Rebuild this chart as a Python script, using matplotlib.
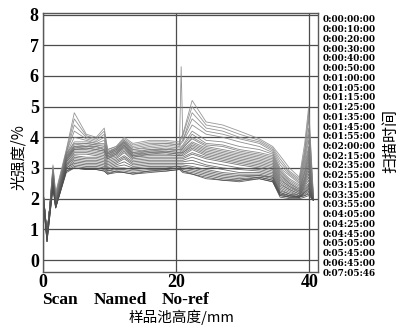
import matplotlib
matplotlib.use("Agg")
import matplotlib.pyplot as plt

# sample cell height positions (mm)
heights = [0, 0.6, 1.5, 1.9, 3.5, 4.7, 6.5, 8.0, 9.2, 9.7, 11.0, 12.2, 13.5, 16.0, 18.5,
           20.5, 20.75, 21.0, 22.4, 24.5, 27.0, 29.5, 32.5, 34.5, 35.6, 37.0, 38.5, 39.3, 39.9, 40.6]

scan_times = ["0:00:00:00", "0:00:10:00", "0:00:20:00", "0:00:30:00", "0:00:40:00",
              "0:00:50:00", "0:01:00:00", "0:01:05:00", "0:01:15:00", "0:01:25:00",
              "0:01:35:00", "0:01:45:00", "0:01:55:00", "0:02:00:00", "0:02:15:00",
              "0:02:35:00", "0:02:55:00", "0:03:15:00", "0:03:35:00", "0:03:55:00",
              "0:04:05:00", "0:04:25:00", "0:04:45:00", "0:05:05:00", "0:05:45:00",
              "0:06:45:00", "0:07:05:46"]

# light intensity (%) per scan
s0 = [2.3, 0.6, 3.1, 2.2, 3.6, 4.8, 4.1, 4.0, 4.3, 3.6, 3.7, 4.0, 3.8, 3.9, 3.9, 3.85, 4.0, 4.1, 5.2, 4.5, 4.4, 4.2, 3.95, 3.7, 3.4, 3.0, 2.7, 3.8, 5.0, 2.1]
s1 = [2.3, 0.65, 3.05, 2.15, 3.55, 4.6, 4.05, 3.95, 4.2, 3.6, 3.7, 3.95, 3.75, 3.85, 3.85, 3.8, 3.95, 4.05, 5.0, 4.4, 4.3, 4.1, 3.9, 3.65, 3.3, 2.9, 2.65, 3.6, 4.8, 2.1]
s2 = [2.25, 0.65, 3.0, 2.1, 3.5, 4.4, 4.0, 3.9, 4.1, 3.55, 3.65, 3.9, 3.7, 3.8, 3.8, 3.75, 6.3, 3.9, 4.8, 4.3, 4.2, 4.0, 3.85, 3.6, 3.2, 2.85, 2.6, 3.5, 4.6, 2.05]
s3 = [2.3, 0.7, 2.95, 2.05, 3.5, 4.2, 3.95, 3.85, 4.0, 3.5, 3.65, 3.9, 3.65, 3.75, 3.8, 3.75, 3.85, 3.9, 4.6, 4.2, 4.1, 3.95, 3.8, 3.55, 3.1, 2.8, 2.55, 3.4, 4.3, 2.05]
s4 = [2.25, 0.7, 2.9, 2.0, 3.45, 4.0, 3.9, 3.8, 3.9, 3.45, 3.6, 3.85, 3.6, 3.7, 3.75, 3.7, 3.8, 3.85, 4.4, 4.1, 4.0, 3.85, 3.7, 3.5, 3.0, 2.75, 2.5, 3.3, 4.1, 2.05]
s5 = [2.3, 0.75, 2.9, 2.0, 3.45, 3.85, 3.85, 3.8, 3.8, 3.5, 3.65, 3.85, 3.6, 3.65, 3.7, 3.65, 3.7, 3.75, 4.2, 3.9, 3.85, 3.7, 3.6, 3.45, 2.95, 2.65, 2.45, 3.2, 3.9, 2.05]
s6 = [2.25, 0.75, 2.85, 2.0, 3.45, 3.8, 3.8, 3.75, 3.75, 3.5, 3.6, 3.85, 3.55, 3.6, 3.65, 3.6, 3.65, 3.7, 4.1, 3.8, 3.75, 3.6, 3.5, 3.4, 2.9, 2.6, 2.4, 3.1, 3.7, 2.05]
s7 = [2.3, 0.8, 2.85, 1.95, 3.4, 3.75, 3.8, 3.75, 3.7, 3.45, 3.6, 3.8, 3.5, 3.6, 3.6, 3.6, 3.6, 3.65, 4.0, 3.75, 3.7, 3.55, 3.45, 3.35, 2.85, 2.55, 2.35, 3.0, 3.6, 2.0]
s8 = [2.25, 0.8, 2.8, 1.95, 3.4, 3.7, 3.75, 3.7, 3.65, 3.45, 3.55, 3.8, 3.5, 3.55, 3.6, 3.55, 3.6, 3.65, 3.95, 3.7, 3.6, 3.5, 3.4, 3.3, 2.8, 2.5, 2.3, 2.9, 3.5, 2.0]
s9 = [2.3, 0.8, 2.8, 1.95, 3.35, 3.7, 3.7, 3.7, 3.6, 3.4, 3.55, 3.75, 3.45, 3.55, 3.55, 3.5, 3.55, 3.6, 3.85, 3.65, 3.55, 3.45, 3.35, 3.25, 2.75, 2.5, 2.3, 2.85, 3.4, 2.0]
s10 = [2.25, 0.85, 2.75, 1.9, 3.35, 3.65, 3.7, 3.65, 3.6, 3.4, 3.5, 3.75, 3.45, 3.5, 3.55, 3.5, 3.5, 3.55, 3.8, 3.6, 3.5, 3.4, 3.3, 3.2, 2.7, 2.45, 2.25, 2.8, 3.3, 2.0]
s11 = [2.2, 0.85, 2.75, 1.9, 3.3, 3.65, 3.65, 3.6, 3.55, 3.35, 3.5, 3.7, 3.4, 3.5, 3.5, 3.45, 3.5, 3.5, 3.75, 3.55, 3.45, 3.35, 3.25, 3.15, 2.65, 2.4, 2.25, 2.7, 3.2, 2.0]
s12 = [2.25, 0.85, 2.7, 1.9, 3.3, 3.6, 3.65, 3.6, 3.55, 3.35, 3.45, 3.7, 3.4, 3.45, 3.5, 3.45, 3.45, 3.5, 3.7, 3.5, 3.4, 3.3, 3.2, 3.1, 2.6, 2.4, 2.2, 2.65, 3.1, 2.0]
s13 = [2.2, 0.9, 2.7, 1.85, 3.25, 3.6, 3.6, 3.55, 3.5, 3.3, 3.45, 3.65, 3.35, 3.45, 3.45, 3.4, 3.4, 3.45, 3.65, 3.45, 3.35, 3.25, 3.15, 3.05, 2.55, 2.35, 2.2, 2.6, 3.0, 1.95]
s14 = [2.2, 0.9, 2.65, 1.85, 3.25, 3.55, 3.55, 3.5, 3.45, 3.3, 3.4, 3.6, 3.35, 3.4, 3.4, 3.4, 3.4, 3.4, 3.6, 3.4, 3.3, 3.2, 3.1, 3.0, 2.5, 2.3, 2.15, 2.55, 2.9, 1.95]
s15 = [2.2, 0.9, 2.65, 1.85, 3.2, 3.5, 3.5, 3.45, 3.4, 3.25, 3.35, 3.55, 3.3, 3.35, 3.35, 3.35, 3.35, 3.35, 3.5, 3.35, 3.25, 3.15, 3.05, 2.95, 2.45, 2.3, 2.15, 2.5, 2.8, 1.95]
s16 = [2.15, 0.9, 2.6, 1.8, 3.2, 3.45, 3.45, 3.4, 3.35, 3.2, 3.3, 3.5, 3.25, 3.3, 3.3, 3.3, 3.3, 3.3, 3.45, 3.3, 3.2, 3.1, 3.0, 2.9, 2.4, 2.25, 2.1, 2.45, 2.7, 1.95]
s17 = [2.2, 0.85, 2.6, 1.8, 3.15, 3.4, 3.35, 3.35, 3.3, 3.15, 3.25, 3.4, 3.2, 3.25, 3.25, 3.25, 3.25, 3.25, 3.35, 3.2, 3.1, 3.0, 2.95, 2.85, 2.35, 2.2, 2.1, 2.4, 2.6, 1.95]
s18 = [2.15, 0.85, 2.55, 1.8, 3.1, 3.35, 3.3, 3.3, 3.25, 3.1, 3.2, 3.35, 3.15, 3.2, 3.2, 3.2, 3.2, 3.2, 3.25, 3.1, 3.0, 2.95, 2.9, 2.8, 2.3, 2.15, 2.1, 2.35, 2.5, 1.95]
s19 = [2.15, 0.8, 2.55, 1.75, 3.1, 3.3, 3.25, 3.25, 3.2, 3.05, 3.15, 3.3, 3.1, 3.15, 3.15, 3.15, 3.15, 3.15, 3.15, 3.05, 2.95, 2.85, 2.85, 2.75, 2.25, 2.15, 2.05, 2.3, 2.45, 1.95]
s20 = [2.1, 0.8, 2.5, 1.75, 3.05, 3.25, 3.2, 3.2, 3.15, 3.0, 3.1, 3.2, 3.05, 3.1, 3.1, 3.1, 3.1, 3.1, 3.05, 2.95, 2.85, 2.8, 2.8, 2.7, 2.2, 2.1, 2.05, 2.25, 2.4, 1.95]
s21 = [2.1, 0.75, 2.5, 1.75, 3.0, 3.2, 3.15, 3.15, 3.1, 2.95, 3.05, 3.1, 3.0, 3.05, 3.05, 3.05, 3.05, 3.05, 3.0, 2.9, 2.8, 2.75, 2.75, 2.7, 2.2, 2.1, 2.05, 2.2, 2.35, 1.95]
s22 = [2.1, 0.7, 2.45, 1.7, 3.0, 3.15, 3.1, 3.1, 3.05, 2.9, 3.0, 3.0, 2.95, 3.0, 3.0, 3.05, 3.0, 3.0, 2.95, 2.85, 2.75, 2.7, 2.75, 2.65, 2.15, 2.1, 2.05, 2.2, 2.3, 1.95]
s23 = [2.05, 0.65, 2.45, 1.7, 2.95, 3.1, 3.05, 3.05, 3.0, 2.9, 2.95, 2.95, 2.9, 2.95, 2.95, 3.0, 3.0, 2.95, 2.9, 2.8, 2.7, 2.65, 2.7, 2.6, 2.15, 2.05, 2.05, 2.15, 2.25, 1.95]
s24 = [2.05, 0.6, 2.4, 1.7, 2.9, 3.05, 3.0, 3.0, 2.95, 2.85, 2.9, 2.9, 2.85, 2.9, 2.95, 3.0, 2.95, 2.9, 2.85, 2.75, 2.65, 2.6, 2.7, 2.6, 2.1, 2.05, 2.05, 2.1, 2.2, 1.95]
s25 = [2.05, 0.6, 2.4, 1.7, 2.9, 3.0, 2.95, 2.95, 2.9, 2.8, 2.9, 2.85, 2.8, 2.9, 2.9, 2.95, 2.95, 2.9, 2.8, 2.7, 2.6, 2.6, 2.65, 2.55, 2.1, 2.05, 2.05, 2.1, 2.15, 1.95]
s26 = [2.0, 0.6, 2.35, 1.7, 2.85, 3.0, 2.95, 2.95, 2.9, 2.8, 2.85, 2.85, 2.8, 2.85, 2.9, 2.95, 2.9, 2.85, 2.8, 2.65, 2.6, 2.55, 2.65, 2.55, 2.05, 2.0, 2.0, 2.05, 2.1, 1.95]

series = [s0, s1, s2, s3, s4, s5, s6, s7, s8, s9, s10, s11, s12, s13, s14,
          s15, s16, s17, s18, s19, s20, s21, s22, s23, s24, s25, s26]

serif = "Liberation Serif"
cjk = ["Noto Sans CJK SC", "DejaVu Sans"]

fig = plt.figure(figsize=(4.15, 3.27), dpi=100)
ax = fig.add_axes([43 / 415, 1 - 272 / 327, 275 / 415, 259 / 327])

n = len(series)
for i, s in enumerate(series):
    shade = 0.55 - 0.25 * (i / (n - 1))
    ax.plot(heights, s, color=str(round(shade, 3)), lw=0.6, alpha=0.9)

ax.set_xlim(0, 41.3)
ax.set_ylim(-0.39, 8.05)
ax.set_yticks(range(0, 9))
ax.set_xticks([0, 20, 40])
ax.tick_params(length=0, pad=3, labelsize=13)
ax.tick_params(axis="x", pad=1.5)
for lab in ax.get_xticklabels() + ax.get_yticklabels():
    lab.set_fontfamily(serif)
    lab.set_fontweight("bold")
ax.grid(True, color="0.3", lw=0.9)
ax.set_axisbelow(True)
for sp in ax.spines.values():
    sp.set_color("0.35")
    sp.set_linewidth(1.0)

for word, px in [("Scan", 42), ("Named", 94), ("No-ref", 162)]:
    fig.text(px / 415, 1 - 300 / 327, word, family=serif,
             weight="bold", fontsize=12.5, va="center", ha="left")
fig.text(181 / 415, 1 - 317.5 / 327, "样品池高度/mm", family=cjk,
         fontsize=10.5, va="center", ha="center")
fig.text(18 / 415, 1 - 157 / 327, "光强度/%", family=cjk, fontsize=11,
         rotation=90, va="center", ha="center")
fig.text(391 / 415, 1 - 141 / 327, "扫描时间", family=cjk, fontsize=11.5,
         rotation=90, va="center", ha="center")

top, bot = 20, 273
for k, t in enumerate(scan_times):
    y = top + (bot - top) * k / (len(scan_times) - 1)
    fig.text(323 / 415, 1 - y / 327, t, family="DejaVu Serif", weight="bold",
             fontsize=6.4, va="center", ha="left")

fig.savefig("out.png", dpi=100)
